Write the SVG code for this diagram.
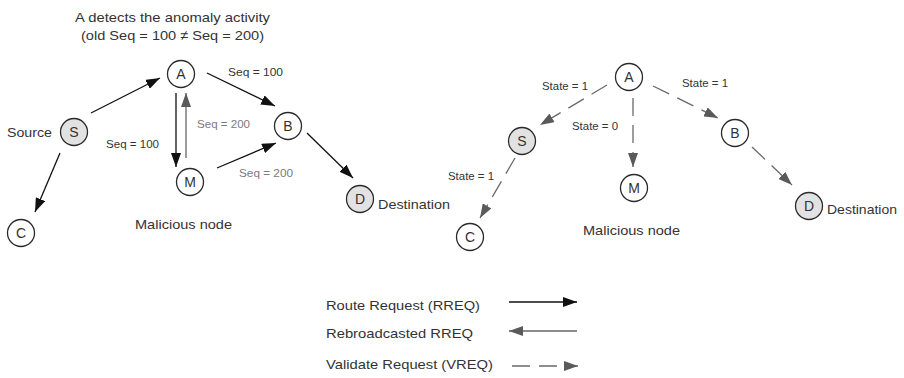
<svg xmlns="http://www.w3.org/2000/svg" width="904" height="378" viewBox="0 0 904 378">
<style>
  text { font-family: "Liberation Sans", Arial, sans-serif; fill: #333333; }
  .t13 { font-size: 13.5px; }
  .t11 { font-size: 11px; }
  .gray { fill: #7a7a7a; }
  .node circle { stroke: #2a2a2a; stroke-width: 1.3; fill: #ffffff; }
  .node.shade circle { fill: #e2e2e2; }
  .node text { font-size: 14px; text-anchor: middle; }
  .rreq { stroke: #111; stroke-width: 1.3; fill: none; marker-end: url(#ah-black); }
  .rebr { stroke: #666; stroke-width: 1.3; fill: none; marker-end: url(#ah-gray); }
  .vreq { stroke: #6a6a6a; stroke-width: 1.3; fill: none; stroke-dasharray: 18 9; marker-end: url(#ah-gray); }
</style>
<defs>
  <marker id="ah-black" markerWidth="14" markerHeight="10" refX="14" refY="5" orient="auto" markerUnits="userSpaceOnUse">
    <path d="M0,0 L14,5 L0,10 z" fill="#111"/>
  </marker>
  <marker id="ah-gray" markerWidth="14" markerHeight="10" refX="14" refY="5" orient="auto" markerUnits="userSpaceOnUse">
    <path d="M0,0 L14,5 L0,10 z" fill="#5a5a5a"/>
  </marker>
</defs>
<rect width="904" height="378" fill="#ffffff"/>

<!-- Title -->
<g id="title">
  <text class="t13" x="75" y="21.5" textLength="195" lengthAdjust="spacingAndGlyphs">A detects the anomaly activity</text>
  <text class="t13" x="81" y="40" textLength="183" lengthAdjust="spacingAndGlyphs">(old Seq = 100 ≠ Seq = 200)</text>
</g>

<!-- Connectors -->
<g id="connectors">
  <!-- left graph -->
  <line class="rreq" x1="91" y1="113" x2="160" y2="78"/>
  <line class="rreq" x1="207" y1="73" x2="275" y2="106"/>
  <line class="rreq" x1="176" y1="93" x2="176" y2="167"/>
  <line class="rebr" x1="186" y1="158" x2="186" y2="93"/>
  <line class="rreq" x1="217" y1="168" x2="276" y2="143"/>
  <line class="rreq" x1="307" y1="133" x2="353" y2="178"/>
  <line class="rreq" x1="60" y1="153" x2="35" y2="212"/>
  <!-- right graph -->
  <line class="vreq" x1="607" y1="85" x2="540" y2="125"/>
  <line class="vreq" x1="633" y1="98" x2="633" y2="167"/>
  <line class="vreq" x1="653" y1="86" x2="718" y2="118"/>
  <line class="vreq" x1="752" y1="147" x2="792" y2="185"/>
  <line class="vreq" x1="515" y1="158" x2="480" y2="218"/>
  <!-- legend -->
  <line class="rreq" x1="509" y1="302" x2="577" y2="302"/>
  <line class="rebr" x1="577" y1="331" x2="509" y2="331"/>
  <line class="vreq" x1="512" y1="366" x2="578" y2="366" stroke-dasharray="18 10"/>
</g>

<!-- Connector labels -->
<g id="edge-labels">
  <text class="t11" x="228" y="76" textLength="55" lengthAdjust="spacingAndGlyphs">Seq = 100</text>
  <text class="t11 gray" x="197" y="128" textLength="53" lengthAdjust="spacingAndGlyphs">Seq = 200</text>
  <text class="t11" x="106" y="148" textLength="53" lengthAdjust="spacingAndGlyphs">Seq = 100</text>
  <text class="t11 gray" x="239" y="177" textLength="54" lengthAdjust="spacingAndGlyphs">Seq = 200</text>
  <text class="t11" x="542" y="90" textLength="46" lengthAdjust="spacingAndGlyphs">State = 1</text>
  <text class="t11" x="682" y="87" textLength="46" lengthAdjust="spacingAndGlyphs">State = 1</text>
  <text class="t11" x="572" y="130" textLength="46" lengthAdjust="spacingAndGlyphs">State = 0</text>
  <text class="t11" x="448" y="180" textLength="46" lengthAdjust="spacingAndGlyphs">State = 1</text>
</g>

<!-- Left graph nodes -->
<g id="L-A" class="node"><circle cx="181" cy="74" r="13.5"/><text x="181" y="79">A</text></g>
<g id="L-S" class="node shade"><circle cx="74" cy="132" r="13.5"/><text x="74" y="137">S</text></g>
<g id="L-B" class="node"><circle cx="288" cy="126" r="13.5"/><text x="288" y="131">B</text></g>
<g id="L-M" class="node"><circle cx="190" cy="182" r="13.5"/><text x="190" y="187">M</text></g>
<g id="L-D" class="node shade"><circle cx="360" cy="199" r="13.5"/><text x="360" y="204">D</text></g>
<g id="L-C" class="node"><circle cx="21" cy="233" r="13.5"/><text x="21" y="238">C</text></g>

<!-- Right graph nodes -->
<g id="R-A" class="node"><circle cx="629" cy="77" r="13.5"/><text x="629" y="82">A</text></g>
<g id="R-S" class="node shade"><circle cx="522" cy="141" r="13.5"/><text x="522" y="146">S</text></g>
<g id="R-B" class="node"><circle cx="735" cy="133" r="13.5"/><text x="735" y="138">B</text></g>
<g id="R-M" class="node"><circle cx="634" cy="188" r="13.5"/><text x="634" y="193">M</text></g>
<g id="R-D" class="node shade"><circle cx="809" cy="206" r="13.5"/><text x="809" y="211">D</text></g>
<g id="R-C" class="node"><circle cx="470" cy="237" r="13.5"/><text x="470" y="242">C</text></g>

<!-- Node annotations -->
<g id="annotations">
  <text class="t13" x="7" y="137" textLength="45" lengthAdjust="spacingAndGlyphs">Source</text>
  <text class="t13" x="378" y="209" textLength="72" lengthAdjust="spacingAndGlyphs">Destination</text>
  <text class="t13" x="135" y="229" textLength="97" lengthAdjust="spacingAndGlyphs">Malicious node</text>
  <text class="t13" x="827" y="214" textLength="70" lengthAdjust="spacingAndGlyphs">Destination</text>
  <text class="t13" x="583" y="235" textLength="97" lengthAdjust="spacingAndGlyphs">Malicious node</text>
</g>

<!-- Legend -->
<g id="legend">
  <text class="t13" x="326" y="310" textLength="154" lengthAdjust="spacingAndGlyphs">Route Request (RREQ)</text>
  <text class="t13" x="326" y="338" textLength="147" lengthAdjust="spacingAndGlyphs">Rebroadcasted RREQ</text>
  <text class="t13" x="326" y="369" textLength="167" lengthAdjust="spacingAndGlyphs">Validate Request (VREQ)</text>
</g>
</svg>
